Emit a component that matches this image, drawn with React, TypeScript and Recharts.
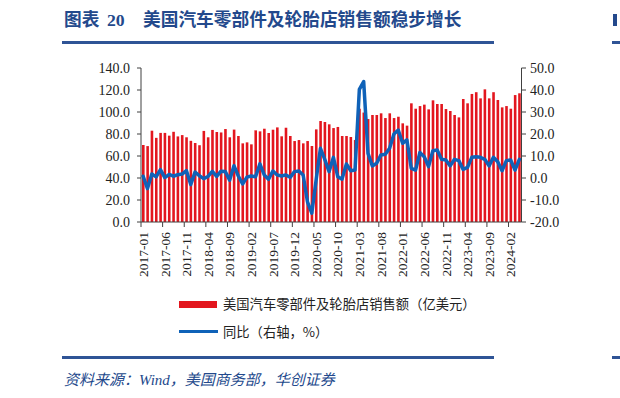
import React from 'react';
import { ComposedChart, Bar, Line, XAxis, YAxis } from 'recharts';

const months: string[] = [
  '2017-01','2017-02','2017-03','2017-04','2017-05','2017-06','2017-07','2017-08','2017-09','2017-10','2017-11','2017-12',
  '2018-01','2018-02','2018-03','2018-04','2018-05','2018-06','2018-07','2018-08','2018-09','2018-10','2018-11','2018-12',
  '2019-01','2019-02','2019-03','2019-04','2019-05','2019-06','2019-07','2019-08','2019-09','2019-10','2019-11','2019-12',
  '2020-01','2020-02','2020-03','2020-04','2020-05','2020-06','2020-07','2020-08','2020-09','2020-10','2020-11','2020-12',
  '2021-01','2021-02','2021-03','2021-04','2021-05','2021-06','2021-07','2021-08','2021-09','2021-10','2021-11','2021-12',
  '2022-01','2022-02','2022-03','2022-04','2022-05','2022-06','2022-07','2022-08','2022-09','2022-10','2022-11','2022-12',
  '2023-01','2023-02','2023-03','2023-04','2023-05','2023-06','2023-07','2023-08','2023-09','2023-10','2023-11','2023-12',
  '2024-01','2024-02','2024-03','2024-04',
];

// 美国汽车零部件及轮胎店销售额（亿美元）
const sales: number[] = [
  70, 69, 83, 76.5, 81, 81, 78.5, 82, 77.8, 79, 77, 73.8,
  71.8, 69.8, 82.8, 77, 83.7, 81.8, 81.4, 84.5, 77, 84, 78.2, 71.5,
  72.4, 70.6, 83.3, 82.4, 84.8, 80.9, 83.9, 86, 77.9, 85.7, 78.2, 73.6,
  74.5, 71.5, 73.6, 69.1, 84.2, 91.8, 90.9, 88.8, 85.4, 86.4, 78.2, 78.2,
  77.3, 74.5, 103, 99.5, 93.6, 97.3, 97.3, 98.8, 94.5, 98.8, 94.5, 95.7,
  89.7, 87.6, 107.9, 103, 105.4, 106.7, 102.4, 110.6, 107.3, 107.3, 102.7, 100.9,
  97.3, 95.1, 111.8, 107.9, 116.4, 118, 112.4, 120.6, 112.4, 118, 110.9, 104.2,
  105.4, 103, 115.4, 117,
];

// 同比（右轴，%）
const yoy: number[] = [
  0.8, -4.8, 1.8, 0.5, 3.8, 0.2, 1.6, 0.8, 1.5, 1.8, 3.4, -3.0,
  2.7, 1.0, -0.3, 0.7, 3.0, 0.7, 3.1, 3.0, -1.0, 5.6, 0.9, -2.7,
  0.4, 0.9, 0.6, 6.4, 1.4, -0.6, 3.2, 1.4, 0.9, 1.4, 0.3, 2.9,
  3.2, 1.4, -10.8, -16.0, -0.9, 13.5, 8.5, 2.9, 9.4, 0.6, -0.5, 6.4,
  3.3, 3.6, 40.3, 43.8, 11.2, 5.5, 6.7, 10.5, 10.8, 13.5, 20.0, 21.8,
  15.8, 17.3, 4.4, 3.6, 11.6, 9.7, 5.2, 12.4, 12.7, 8.5, 8.2, 5.5,
  8.5, 7.9, 3.9, 4.8, 9.4, 9.7, 9.4, 8.5, 5.5, 9.4, 7.4, 3.3,
  7.9, 8.2, 3.6, 8.5,
];

const leftTicks: number[] = [0, 20, 40, 60, 80, 100, 120, 140];
const rightTicks: number[] = [-20, -10, 0, 10, 20, 30, 40, 50];

const seriesNames = ['美国汽车零部件及轮胎店销售额（亿美元）', '同比（右轴，%）'];

const data = months.map((m, i) => ({ month: m, sales: sales[i], yoy: yoy[i] }));

const CHART_W = 620;
const CHART_H = 300;
const PLOT_LEFT = 141;
const PLOT_RIGHT = 521.5;
const PLOT_TOP = 68;
const XAXIS_H = 70;
const BOTTOM_M = 8;
const BAND = (PLOT_RIGHT - PLOT_LEFT) / months.length;

const AXIS_COLOR = '#404040';
const TEXT_COLOR = '#222222';
const RED = '#E3161E';
const BLUE = '#0F62B8';
const TITLE_BLUE = '#23498C';
const SERIF = '"Liberation Serif", "Times New Roman", serif';
const CJK = '"Liberation Serif", "Noto Sans CJK SC", serif';

const XTick = (props: any) => {
  const { x, y, payload } = props;
  const tx = x - BAND / 2;
  return (
    <g>
      <line x1={tx} x2={tx} y1={y} y2={y + 5} stroke={AXIS_COLOR} strokeWidth={1} />
      <text
        x={x}
        y={y + 10}
        transform={`rotate(-90 ${x} ${y + 10})`}
        textAnchor="end"
        dy="0.35em"
        fontSize={13.5}
        fontFamily={SERIF}
        fill={TEXT_COLOR}
      >
        {payload.value}
      </text>
    </g>
  );
};

export default function App() {
  return (
    <div style={{ position: 'absolute', left: 0, top: 0, width: 620, height: 398, background: '#fff', overflow: 'hidden' }}>
      {/* Title */}
      <div style={{ position: 'absolute', left: 64, top: 8, fontSize: 17.7, fontWeight: 'bold', color: TITLE_BLUE, fontFamily: CJK, lineHeight: '24px', whiteSpace: 'nowrap' }}>
        图表
      </div>
      <div style={{ position: 'absolute', left: 107, top: 8, fontSize: 17.7, fontWeight: 'bold', color: TITLE_BLUE, fontFamily: SERIF, lineHeight: '24px', whiteSpace: 'nowrap' }}>
        20
      </div>
      <div style={{ position: 'absolute', left: 143, top: 8, fontSize: 17.7, fontWeight: 'bold', color: TITLE_BLUE, fontFamily: CJK, lineHeight: '24px', whiteSpace: 'nowrap' }}>
        美国汽车零部件及轮胎店销售额稳步增长
      </div>
      <div style={{ position: 'absolute', left: 62, top: 41, width: 432, height: 2.5, background: '#2F5496' }} />
      <div style={{ position: 'absolute', left: 613, top: 14, width: 4, height: 12, background: TITLE_BLUE }} />
      <div style={{ position: 'absolute', left: 612, top: 41, width: 8, height: 2.5, background: '#2F5496' }} />

      {/* Chart */}
      <div style={{ position: 'absolute', left: 0, top: 0 }}>
        <ComposedChart
          width={CHART_W}
          height={CHART_H}
          data={data}
          margin={{ top: PLOT_TOP, right: 0, left: 0, bottom: BOTTOM_M }}
          barCategoryGap={0}
        >
          <XAxis
            dataKey="month"
            interval={4}
            height={XAXIS_H}
            tickSize={0}
            tickMargin={0}
            tickLine={false}
            axisLine={{ stroke: AXIS_COLOR, strokeWidth: 1 }}
            tick={<XTick />}
          />
          <YAxis
            yAxisId="left"
            orientation="left"
            width={PLOT_LEFT}
            domain={[0, 140]}
            ticks={leftTicks}
            interval={0}
            tickFormatter={(v: number) => v.toFixed(1)}
            tickSize={4}
            tickMargin={7}
            axisLine={{ stroke: AXIS_COLOR, strokeWidth: 1 }}
            tickLine={{ stroke: AXIS_COLOR, strokeWidth: 1 }}
            tick={{ fontSize: 14, fontFamily: SERIF, fill: TEXT_COLOR }}
          />
          <YAxis
            yAxisId="right"
            orientation="right"
            width={CHART_W - PLOT_RIGHT}
            domain={[-20, 50]}
            ticks={rightTicks}
            interval={0}
            tickFormatter={(v: number) => v.toFixed(1)}
            tickSize={4.5}
            tickMargin={4}
            axisLine={{ stroke: AXIS_COLOR, strokeWidth: 1 }}
            tickLine={{ stroke: AXIS_COLOR, strokeWidth: 1 }}
            tick={{ fontSize: 14, fontFamily: SERIF, fill: TEXT_COLOR, textAnchor: 'start' }}
          />
          <Bar
            yAxisId="left"
            dataKey="sales"
            name={seriesNames[0]}
            fill={RED}
            barSize={2.6}
            isAnimationActive={false}
          />
          <Line
            yAxisId="right"
            dataKey="yoy"
            name={seriesNames[1]}
            type="linear"
            stroke={BLUE}
            strokeWidth={3.5}
            strokeLinejoin="round"
            strokeLinecap="round"
            dot={false}
            activeDot={false}
            isAnimationActive={false}
          />
        </ComposedChart>
      </div>

      {/* Legend */}
      <div style={{ position: 'absolute', left: 179, top: 301, width: 38, height: 7, background: RED }} />
      <div style={{ position: 'absolute', left: 223, top: 295, fontSize: 13.3, fontFamily: '"Noto Sans CJK SC", sans-serif', color: TEXT_COLOR, lineHeight: '18px', whiteSpace: 'nowrap' }}>
        {seriesNames[0]}
      </div>
      <div style={{ position: 'absolute', left: 179, top: 330, width: 39, height: 3, background: BLUE }} />
      <div style={{ position: 'absolute', left: 223, top: 322.5, fontSize: 13.3, fontFamily: '"Noto Sans CJK SC", sans-serif', color: TEXT_COLOR, lineHeight: '18px', whiteSpace: 'nowrap' }}>
        {seriesNames[1]}
      </div>

      {/* Bottom rule and source */}
      <div style={{ position: 'absolute', left: 62, top: 356, width: 432, height: 2.5, background: '#2F5496' }} />
      <div style={{ position: 'absolute', left: 612, top: 356, width: 8, height: 2.5, background: '#2F5496' }} />
      <div style={{ position: 'absolute', left: 64, top: 369, fontSize: 15, fontStyle: 'italic', color: TITLE_BLUE, fontFamily: CJK, lineHeight: '22px', whiteSpace: 'nowrap' }}>
        资料来源：Wind，美国商务部，华创证券
      </div>
    </div>
  );
}
